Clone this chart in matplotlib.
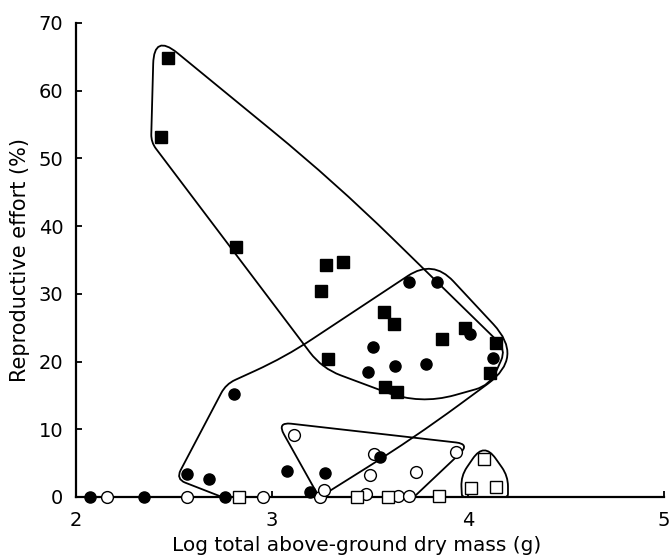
import numpy as np
import matplotlib
matplotlib.use("Agg")
import matplotlib.pyplot as plt
from matplotlib.path import Path
from matplotlib.patches import PathPatch

# ---- data (log mass, reproductive effort %) ----
filled_sq_x = [2.469, 2.434, 2.816, 3.274, 3.361, 3.250, 3.571, 3.621, 3.866, 3.985, 4.143, 3.286, 3.575, 3.639, 4.112]
filled_sq_y = [64.8, 53.2, 36.9, 34.3, 34.7, 30.4, 27.3, 25.5, 23.3, 24.9, 22.7, 20.4, 16.2, 15.5, 18.3]

filled_ci_x = [3.700, 3.840, 4.010, 3.517, 3.628, 3.786, 3.490, 4.129, 3.551, 3.078, 3.269, 3.194, 2.070, 2.349, 2.565, 2.681, 2.761, 2.805]
filled_ci_y = [31.8, 31.8, 24.1, 22.1, 19.4, 19.7, 18.4, 20.6, 5.9, 3.9, 3.5, 0.8, 0.0, 0.0, 3.4, 2.6, 0.0, 15.2]

open_ci_x = [2.160, 2.565, 2.955, 3.112, 3.247, 3.265, 3.522, 3.500, 3.480, 3.734, 3.941, 3.644, 3.699]
open_ci_y = [0.0, 0.0, 0.0, 9.1, 0.0, 1.0, 6.4, 3.3, 0.5, 3.7, 6.7, 0.2, 0.2]

open_sq_x = [2.833, 3.435, 3.592, 3.851, 4.082, 4.017, 4.143]
open_sq_y = [0.0, 0.0, 0.0, 0.15, 5.6, 1.4, 1.5]

# ---- group outlines (vertices of rounded polygons, data units) ----
hull1_x = [2.398, 2.383, 3.255, 3.755, 4.112, 4.194, 3.321]
hull1_y = [68.4, 52.4, 19.0, 13.6, 16.5, 21.8, 46.5]
hull1_r = [30, 8, 20, 50, 15, 12, 80]

hull2_x = [2.765, 2.510, 2.745, 3.245, 3.724, 4.286, 3.821, 3.066]
hull2_y = [16.67, 2.65, 0.0, 0.0, 8.70, 20.65, 35.10, 20.65]
hull2_r = [10, 10, 4, 4, 80, 45, 30, 60]

hull3_x = [3.026, 4.010, 3.724, 3.240]
hull3_y = [11.06, 7.82, 0.0, 0.0]
hull3_r = [14, 14, 3, 3]

hull4_x = [4.082, 3.964, 3.969, 4.204, 4.204]
hull4_y = [8.1, 3.1, 0.0, 0.0, 3.1]
hull4_r = [20, 15, 3, 3, 15]

x_ticks = [2, 3, 4, 5]
y_ticks = [0, 10, 20, 30, 40, 50, 60, 70]

SX, SY = 196.0, 6.78  # approx pixels per data unit (for isotropic rounding)


def rounded_path(xs, ys, rs):
    P = np.column_stack([(np.array(xs) - 2) * SX, np.array(ys) * SY])
    n = len(P)
    verts, codes = [], []
    for i in range(n):
        v = P[i]
        pv = P[i - 1]
        nx = P[(i + 1) % n]
        d1 = pv - v
        d2 = nx - v
        l1 = np.hypot(*d1)
        l2 = np.hypot(*d2)
        r = min(rs[i], 0.5 * l1, 0.5 * l2)
        p0 = v + d1 / l1 * r
        p2 = v + d2 / l2 * r
        if i == 0:
            verts.append(p0); codes.append(Path.MOVETO)
            start = p0
        else:
            verts.append(p0); codes.append(Path.LINETO)
        verts += [v, p2]; codes += [Path.CURVE3, Path.CURVE3]
    verts.append(start); codes.append(Path.LINETO)
    verts = np.array(verts)
    verts[:, 0] = verts[:, 0] / SX + 2
    verts[:, 1] = verts[:, 1] / SY
    return Path(verts, codes)


plt.rcParams['font.family'] = ['DejaVu Sans']
fig = plt.figure(figsize=(6.70, 5.59), dpi=100)
ax = fig.add_axes([76 / 670, 62 / 559, 588 / 670, 474 / 559])

for hx, hy, hr in [(hull1_x, hull1_y, hull1_r), (hull2_x, hull2_y, hull2_r),
                   (hull3_x, hull3_y, hull3_r), (hull4_x, hull4_y, hull4_r)]:
    ax.add_patch(PathPatch(rounded_path(hx, hy, hr), facecolor='none',
                           edgecolor='black', lw=1.3, clip_on=False, zorder=2))

ax.plot(filled_sq_x, filled_sq_y, 's', color='black', ms=8, clip_on=False, zorder=4)
ax.plot(filled_ci_x, filled_ci_y, 'o', color='black', ms=8, clip_on=False, zorder=4)
ax.plot(open_ci_x, open_ci_y, 'o', mfc='white', mec='black', mew=1.0, ms=8.5, clip_on=False, zorder=3)
ax.plot(open_sq_x, open_sq_y, 's', mfc='white', mec='black', mew=1.0, ms=8.5, clip_on=False, zorder=3)

ax.set_xlim(2, 5)
ax.set_ylim(0, 70)
ax.set_xticks(x_ticks)
ax.set_yticks(y_ticks)
for s in ['top', 'right']:
    ax.spines[s].set_visible(False)
for s in ['left', 'bottom']:
    ax.spines[s].set_linewidth(1.6)
ax.tick_params(direction='in', length=4, width=1.3, labelsize=14, pad=9)
ax.tick_params(axis='x', pad=10)

ax.set_xlabel('Log total above-ground dry mass (g)', fontsize=14.5)
ax.set_ylabel('Reproductive effort (%)', fontsize=15)
ax.xaxis.set_label_coords(0.478, -0.083)
ax.yaxis.set_label_coords(-0.078, 0.50)

fig.savefig('out.png', dpi=100)
